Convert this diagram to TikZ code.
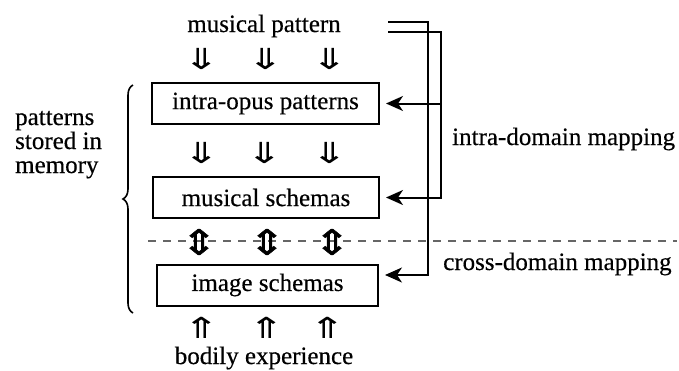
\documentclass[tikz,border=0pt]{standalone}
\usepackage{fontspec}
\usepackage{graphicx}
\setmainfont{Liberation Serif}
\newfontfamily\labelfont[FakeBold=0.4]{Liberation Serif}
\newfontfamily\arrowfont{DejaVu Sans}
\newfontfamily\heavyarrowfont[FakeBold=1.0]{DejaVu Sans}
\newcommand{\widearrow}[1]{\scalebox{1.5}[1]{#1}}
\usetikzlibrary{arrows.meta,decorations.pathreplacing}

\begin{document}
\begin{tikzpicture}[x=1pt,y=-1pt,
  lbl/.style={font=\labelfont\fontsize{25}{24}\selectfont, inner sep=0pt},
  stage/.style={draw, line width=2pt, minimum height=41pt, inner sep=0pt,
    font=\labelfont\fontsize{25}{30}\selectfont},
  flow/.style={inner sep=0pt, font=\arrowfont\fontsize{29}{29}\selectfont},
  mutual/.style={inner sep=0pt, font=\heavyarrowfont\fontsize{35}{35}\selectfont},
  map/.style={line width=2pt, -{Stealth[length=17pt,width=15pt,inset=5pt]}},
  divider/.style={dash pattern=on 8pt off 7pt, line width=1.2pt, black!60},
  ]
\useasboundingbox (0,0) rectangle (679,370);

% dividing line between musical and bodily domains
\coordinate (dl) at (148,241);
\coordinate (dr) at (677,241);
\draw[divider] (dl) -- (dr);

% the three stored pattern levels
\node[stage, minimum width=227pt] (b1) at (265.5,103.5) {intra-opus patterns};
\node[stage, minimum width=226pt] (b2) at (266,197.5) {musical schemas};
\node[stage, minimum width=221pt] (b3) at (267.5,285) {image schemas};

% inputs from above and below
\node[lbl, anchor=base] (mp) at (264,32) {musical pattern};
\node[lbl, anchor=base] (be) at (264,364) {bodily experience};

% flow glyphs between levels
\node[flow] (d1a) at (202,59) {\widearrow{⇓}};
\node[flow] (d1b) at (266,59) {\widearrow{⇓}};
\node[flow] (d1c) at (330,59) {\widearrow{⇓}};
\node[flow] (d2a) at (202,153) {\widearrow{⇓}};
\node[flow] (d2b) at (265,153) {\widearrow{⇓}};
\node[flow] (d2c) at (330,153) {\widearrow{⇓}};
\node[mutual] (m1) at (199,242) {\scalebox{1.25}[1]{⇕}};
\node[mutual] (m2) at (267,242) {\scalebox{1.25}[1]{⇕}};
\node[mutual] (m3) at (332,242) {\scalebox{1.25}[1]{⇕}};
\node[flow] (u1) at (202,328) {\widearrow{⇑}};
\node[flow] (u2) at (267,328) {\widearrow{⇑}};
\node[flow] (u3) at (328,328) {\widearrow{⇑}};

% memory brace and its label
\coordinate (bt) at (133,85);
\coordinate (bb) at (133,313);
\draw[decorate, decoration={brace, amplitude=10pt}, line width=1.6pt] (bb) -- (bt);
\node[lbl, anchor=base west, align=left] (mem) at (15,173) {patterns\\stored in\\memory};

% intra-domain mapping: musical pattern to the two musical levels
\coordinate (sa) at (388,32);
\coordinate (ka) at (441,32);
\draw[line width=2pt] (sa) -- (ka) |- (b1.east -| ka);
\draw[map] (b1.east -| ka) -- ([xshift=6pt]b1.east);
\draw[map] (ka) |- ([xshift=6pt]b2.east);

% cross-domain mapping: musical pattern to image schemas
\coordinate (sb) at (388,22);
\coordinate (kb) at (428,22);
\draw[map] (sb) -- (kb) |- ([xshift=6pt,yshift=10pt]b3.east);

\node[lbl, anchor=base west] (intra) at (452,145) {intra-domain mapping};
\node[lbl, anchor=base west] (cross) at (443,270) {cross-domain mapping};
\end{tikzpicture}
\end{document}
